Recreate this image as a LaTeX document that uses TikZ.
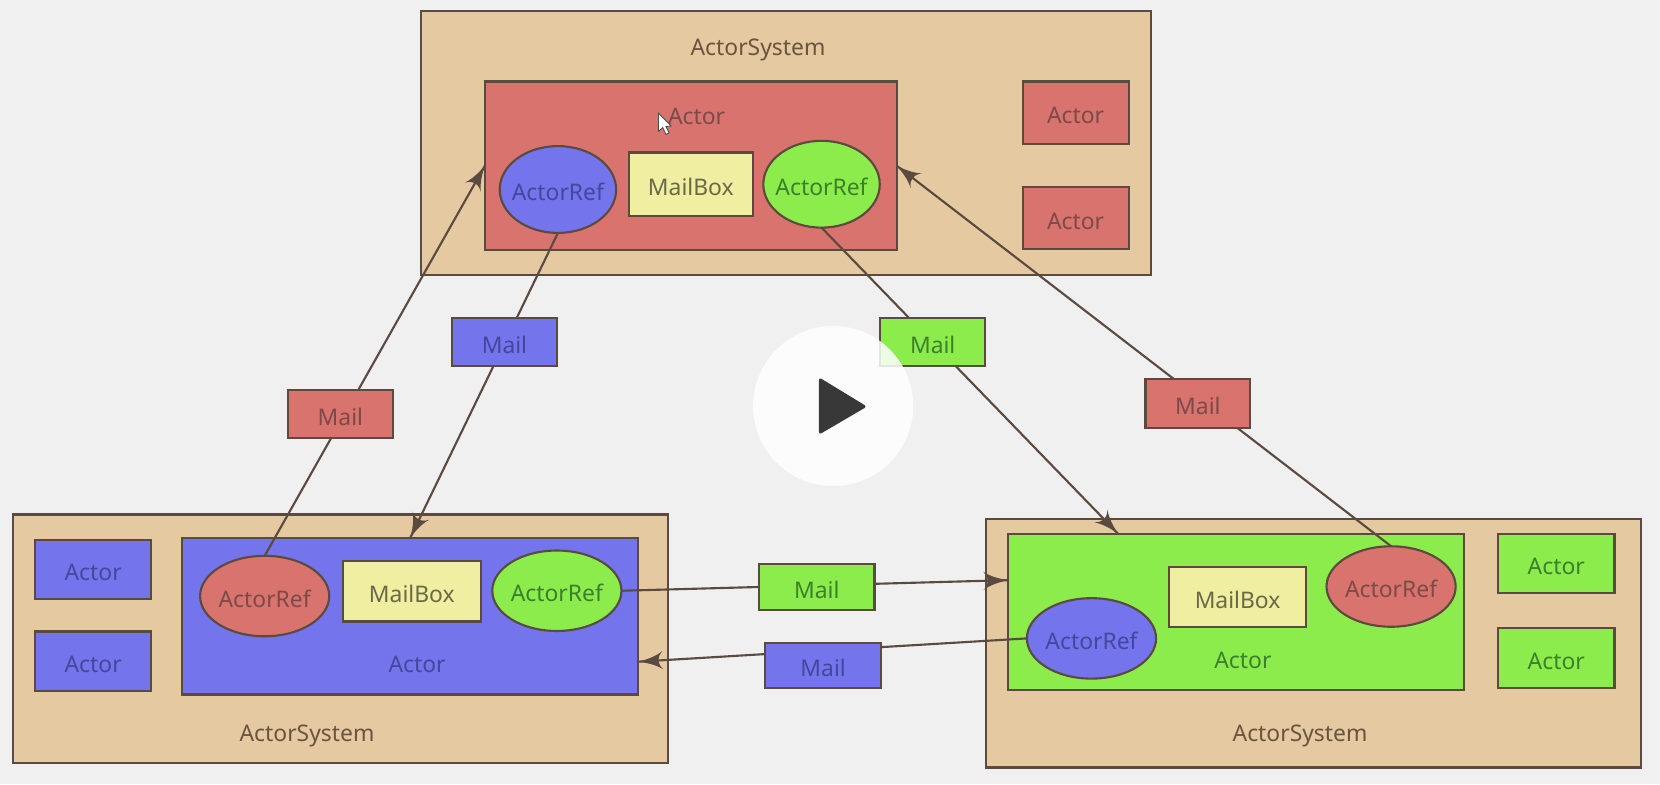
\documentclass[tikz,border=0pt]{standalone}
\usepackage{fontspec}
\setmainfont{Noto Sans}
\usetikzlibrary{arrows}
\usetikzlibrary{decorations.markings}
\usetikzlibrary{shapes.geometric}
\definecolor{mback}{HTML}{F0F0F0}
\definecolor{mtan}{HTML}{E5C9A0}
\definecolor{mred}{HTML}{D9736E}
\definecolor{mblue}{HTML}{7474EC}
\definecolor{mgreen}{HTML}{8CEC4C}
\definecolor{myellow}{HTML}{F0EEA0}
\definecolor{medge}{HTML}{5A4A40}
\definecolor{tred}{HTML}{7C4A48}
\definecolor{tblue}{HTML}{45479C}
\definecolor{tgreen}{HTML}{3C7F2C}
\definecolor{tyellow}{HTML}{6A6A48}
\definecolor{ttan}{HTML}{6A5440}
\tikzset{msg/.style = {draw=medge, line width=1pt,
                       decoration={markings,
                                   mark=at position 1 with {\arrow[scale=2]{latex'}}},
                       postaction={decorate}}}
\tikzset{box/.style = {draw=medge, line width=1pt, inner sep=0pt, outer sep=0pt,
                       text height=10.5pt, text depth=0pt,
                       font=\fontsize{10.8}{13}\selectfont}}
\tikzset{sysbox/.style = {box, fill=mtan, minimum width=#1}}
\tikzset{redbox/.style = {box, fill=mred, text=tred}}
\tikzset{bluebox/.style = {box, fill=mblue, text=tblue}}
\tikzset{greenbox/.style = {box, fill=mgreen, text=tgreen}}
\tikzset{mailbox/.style = {box, fill=myellow, text=tyellow}}
\tikzset{refbig/.style = {ellipse, inner sep=-6pt, minimum width=61pt, minimum height=38pt}}
\tikzset{refsmall/.style = {ellipse, inner sep=-6pt, minimum width=55pt, minimum height=41pt}}
\tikzset{smallactor/.style = {minimum width=55pt, minimum height=28pt}}
\tikzset{smallmail/.style = {minimum width=49.5pt, minimum height=23pt}}
\tikzset{midmail/.style = {minimum width=54.5pt, minimum height=21.5pt}}
\tikzset{lbl/.style = {font=\fontsize{10.8}{13}\selectfont, inner sep=0pt}}

\begin{document}
\begin{tikzpicture}[x=0.5pt, y=-0.5pt]
      \fill [mback] (0, 0) rectangle (1568, 740.6);
      \useasboundingbox (0, 0) rectangle (1568, 740.6);

      % top system
      \node [sysbox=344.5pt, minimum height=125pt] (sysT) at (742.5, 135) {};
      \node [lbl, text=ttan] (sysTlabel) at (716, 47) {ActorSystem};
      \node [redbox, minimum width=194.5pt, minimum height=79.5pt] (actorT) at (652.5, 156.5) {};
      \node [lbl, text=tred] (actorTlabel) at (658, 110) {Actor};
      \node [bluebox, refsmall] (refTblue) at (527, 179) {ActorRef};
      \node [mailbox, minimum width=58.5pt, minimum height=30pt] (boxT) at (652.5, 174) {MailBox};
      \node [greenbox, refsmall] (refTgreen) at (776, 174) {ActorRef};
      \node [redbox, minimum width=50pt, minimum height=29.5pt] (actorTa) at (1016, 106.5) {Actor};
      \node [redbox, minimum width=50pt, minimum height=29.5pt] (actorTb) at (1016, 206) {Actor};

      % left system
      \node [sysbox=309.5pt, minimum height=117.5pt] (sysL) at (321.5, 603.5) {};
      \node [lbl, text=ttan] (sysLlabel) at (290, 695) {ActorSystem};
      \node [bluebox, minimum width=215.5pt, minimum height=74pt] (actorL) at (387.5, 582) {};
      \node [lbl, text=tblue] (actorLlabel) at (394, 628) {Actor};
      \node [redbox, refbig] (refLred) at (250, 563) {ActorRef};
      \node [mailbox, minimum width=65pt, minimum height=28.5pt] (boxL) at (389, 558.5) {MailBox};
      \node [greenbox, refbig] (refLgreen) at (526, 558) {ActorRef};
      \node [bluebox, smallactor] (actorLa) at (88, 538) {Actor};
      \node [bluebox, smallactor] (actorLb) at (88, 624.5) {Actor};

      % right system
      \node [sysbox=309.5pt, minimum height=117.5pt] (sysR) at (1240.5, 607.5) {};
      \node [lbl, text=ttan] (sysRlabel) at (1228, 695) {ActorSystem};
      \node [greenbox, minimum width=215.5pt, minimum height=74pt] (actorR) at (1167.5, 578) {};
      \node [lbl, text=tgreen] (actorRlabel) at (1174, 624) {Actor};
      \node [bluebox, refbig] (refRblue) at (1031, 603) {ActorRef};
      \node [mailbox, minimum width=65pt, minimum height=28.5pt] (boxR) at (1169, 564) {MailBox};
      \node [redbox, refbig] (refRred) at (1314, 554) {ActorRef};
      \node [greenbox, smallactor] (actorRa) at (1470, 532) {Actor};
      \node [greenbox, smallactor] (actorRb) at (1470, 621.5) {Actor};

      % free ends on the actor borders
      \coordinate (inR) at (1056, 504);
      \coordinate (inRside) at (952, 548);
      \coordinate (inLside) at (603, 625);

      \draw [msg] (refLred.north) -- (actorT.west);
      \draw [msg] (refTblue.south) -- (actorL.north);
      \draw [msg] (refTgreen.south) -- (inR);
      \draw [msg] (refRred.north) -- (actorT.east);
      \draw [msg] (refLgreen.east) -- (inRside);
      \draw [msg] (refRblue.west) -- (inLside);

      \node [redbox, smallmail] (mailA) at (321.5, 391) {Mail};
      \node [bluebox, smallmail] (mailB) at (476.5, 323) {Mail};
      \node [greenbox, smallmail] (mailC) at (881, 323) {Mail};
      \node [redbox, smallmail] (mailD) at (1131.5, 381) {Mail};
      \node [greenbox, midmail] (mailE) at (771.5, 554.5) {Mail};
      \node [bluebox, midmail] (mailF) at (777.5, 628.5) {Mail};

      % pointer and player button
      \fill [white, draw=black!70, line width=0.4pt] (622, 107) -- (622, 124) -- (626, 120.5) -- (629, 127)
        -- (632, 125.5) -- (629, 119.5) -- (634, 119) -- cycle;
      \fill [white, fill opacity=0.85] (787, 383.5) circle [radius=37.8pt];
      \fill [black!78, draw=black!78, line width=1.5pt, line join=round] (775, 359) -- (775, 408) -- (816, 384) -- cycle;
    \end{tikzpicture}
\end{document}
